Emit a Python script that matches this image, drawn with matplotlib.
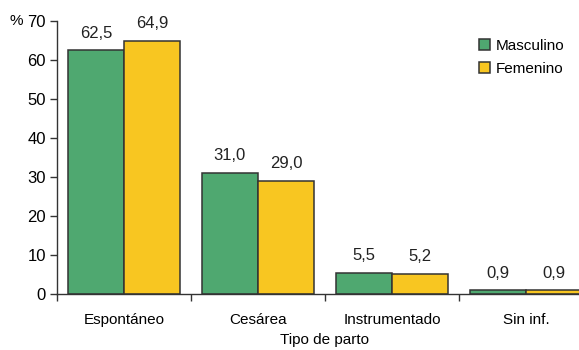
import matplotlib.pyplot as plt
import numpy as np

plt.rcParams['font.family'] = ['Liberation Sans', 'DejaVu Sans']

categories = ['Espontáneo', 'Cesárea', 'Instrumentado', 'Sin inf.']
masculino = [62.5, 31.0, 5.5, 0.9]
femenino = [64.9, 29.0, 5.2, 0.9]
series_names = ['Masculino', 'Femenino']

green = '#4FA870'
yellow = '#F8C621'
edge = '#333333'
fs = 11
fs_num = 12

fig = plt.figure(figsize=(5.79, 3.5), dpi=100)
# axes run a bit past the right edge, so the last group is cut off
ax = fig.add_axes([57 / 579, 1 - 294 / 350, 536 / 579, 273 / 350])

x = np.arange(len(categories))
w = 0.42

b1 = ax.bar(x - w / 2, masculino, w, color=green, edgecolor=edge, linewidth=1.1, label=series_names[0])
b2 = ax.bar(x + w / 2, femenino, w, color=yellow, edgecolor=edge, linewidth=1.1, label=series_names[1])

def fmt(v):
    return f"{v:.1f}".replace('.', ',')

for bars, vals in [(b1, masculino), (b2, femenino)]:
    for b, v in zip(bars, vals):
        ax.annotate(fmt(v), xy=(b.get_x() + b.get_width() / 2, v),
                    xytext=(0, 7), textcoords='offset points',
                    ha='center', va='bottom', fontsize=fs_num, color='#222222')

ax.set_xlim(-0.5, len(categories) - 0.5)
ax.set_ylim(0, 70)
ax.set_yticks(np.arange(0, 71, 10))

ax.set_xticks(x)
ax.set_xticklabels(categories, fontsize=fs)
ax.set_xticks(np.arange(-0.5, len(categories), 1), minor=True)
ax.tick_params(axis='x', which='major', length=0, pad=14)
ax.tick_params(axis='x', which='minor', length=5, width=1, color=edge)
ax.tick_params(axis='y', length=5, width=1, color=edge, labelsize=fs_num, pad=3)

for s in ['top', 'right']:
    ax.spines[s].set_visible(False)
for s in ['left', 'bottom']:
    ax.spines[s].set_color(edge)
    ax.spines[s].set_linewidth(1)

ax.set_xlabel('Tipo de parto', fontsize=fs, labelpad=4)
ax.text(-0.064, 70, '%', transform=ax.get_yaxis_transform(), ha='right', va='center', fontsize=fs)

ax.legend(loc='upper left', bbox_to_anchor=(0.762, 0.985), frameon=False, fontsize=fs,
          handlelength=0.7, handleheight=0.7, handletextpad=0.4, labelspacing=0.6)

fig.savefig('out.png', dpi=100)
